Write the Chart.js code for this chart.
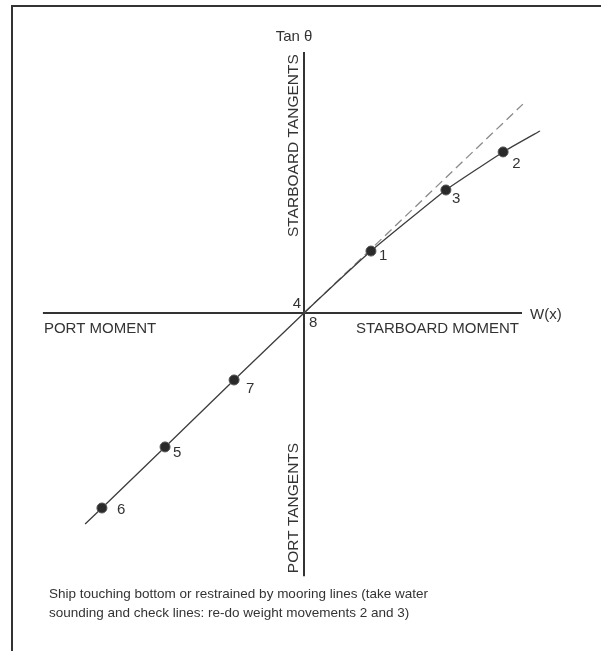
<!DOCTYPE html>
<html>
<head>
<meta charset="utf-8">
<title>Tan theta vs W(x)</title>
<script src="https://cdn.jsdelivr.net/npm/chart.js@4.4.0/dist/chart.umd.min.js"></script>
<style>
  html, body { margin: 0; padding: 0; background: #fff; }
  #wrap { width: 601px; height: 651px; position: relative; }
</style>
</head>
<body>
<div id="wrap"><canvas id="chart"></canvas></div>
<script>
// --- data (arbitrary units, origin = axes crossing) ---
const pointIds = ['6', '5', '7', '1', '3', '2'];
const momentX = [-6.85, -4.71, -2.37, 2.27, 4.81, 6.75];
const tangentY = [-6.61, -4.54, -2.27, 2.10, 4.17, 5.46];

// solid trace through the weight movements (4 and 8 sit at the origin)
const traceX = [-7.42, -6.85, -4.71, -2.37, 0, 2.27, 4.81, 6.75, 8.0];
const traceY = [-7.15, -6.61, -4.54, -2.27, 0, 2.10, 4.17, 5.46, 6.17];

// dashed straight-line extension from the origin
const dashX = [0, 7.42];
const dashY = [0, 7.08];

// axis extents
const axisX = [-8.85, 7.39];
const axisY = [-8.92, 8.85];

const originIds = ['4', '8'];
const captionLines = [
    'Ship touching bottom or restrained by mooring lines (take water',
    'sounding and check lines: re-do weight movements 2 and 3)'
];

const ink = '#333333';
const font = '"Liberation Sans", Arial, sans-serif';

const toXY = (xs, ys) => xs.map((x, i) => ({ x: x, y: ys[i] }));

// label nudges (px) for the point numbers
const labelNudge = {
    '1': [8, 9], '3': [6, 13], '2': [9, 16],
    '7': [12, 13], '5': [8, 10], '6': [15, 6]
};

const sketchText = {
    id: 'sketchText',
    beforeDraw(chart) {
        const ctx = chart.ctx;
        ctx.save();
        ctx.fillStyle = '#fff';
        ctx.fillRect(0, 0, chart.width, chart.height);
        // frame (only top and left edges show)
        ctx.strokeStyle = ink;
        ctx.lineWidth = 2;
        ctx.beginPath();
        ctx.moveTo(12, chart.height);
        ctx.lineTo(12, 6);
        ctx.lineTo(chart.width, 6);
        ctx.stroke();
        ctx.restore();
    },
    afterDatasetsDraw(chart) {
        const ctx = chart.ctx;
        const xs = chart.scales.x, ys = chart.scales.y;
        const ox = xs.getPixelForValue(0), oy = ys.getPixelForValue(0);
        ctx.save();
        ctx.fillStyle = ink;
        ctx.textBaseline = 'alphabetic';
        ctx.font = '15px ' + font;

        // point numbers
        ctx.textAlign = 'left';
        pointIds.forEach((id, i) => {
            const n = labelNudge[id] || [8, 10];
            ctx.fillText(id, xs.getPixelForValue(momentX[i]) + n[0], ys.getPixelForValue(tangentY[i]) + n[1]);
        });
        ctx.textAlign = 'right';
        ctx.fillText(originIds[0], ox - 3, oy - 5);
        ctx.textAlign = 'left';
        ctx.fillText(originIds[1], ox + 5, oy + 14);

        // axis titles
        const top = ys.getPixelForValue(axisY[1]);
        const bottom = ys.getPixelForValue(axisY[0]);
        const left = xs.getPixelForValue(axisX[0]);
        const right = xs.getPixelForValue(axisX[1]);
        ctx.textAlign = 'center';
        ctx.fillText('Tan \u03b8', ox - 10, top - 11);
        ctx.textAlign = 'left';
        ctx.fillText('W(x)', right + 8, oy + 6);
        ctx.fillText('PORT MOMENT', left + 1, oy + 20);
        ctx.textAlign = 'right';
        ctx.fillText('STARBOARD MOMENT', right - 3, oy + 20);

        // rotated tangent labels
        ctx.font = '15.5px ' + font;
        ctx.textAlign = 'left';
        ctx.save();
        ctx.translate(ox - 6, oy - 76);
        ctx.rotate(-Math.PI / 2);
        ctx.fillText('STARBOARD TANGENTS', 0, 0);
        ctx.restore();
        ctx.save();
        ctx.translate(ox - 6, bottom - 3);
        ctx.rotate(-Math.PI / 2);
        ctx.fillText('PORT TANGENTS', 0, 0);
        ctx.restore();

        // caption
        ctx.font = '13.5px ' + font;
        ctx.textAlign = 'left';
        captionLines.forEach((line, i) => ctx.fillText(line, 49, 598 + i * 19));
        ctx.restore();
    }
};

new Chart(document.getElementById('chart'), {
    type: 'scatter',
    data: {
        datasets: [
            {
                label: 'moves',
                data: toXY(momentX, tangentY),
                pointRadius: 5,
                pointBackgroundColor: '#2a2a2a',
                pointBorderColor: '#555',
                pointBorderWidth: 1,
                showLine: false,
                order: 0
            },
            {
                label: 'trace',
                data: toXY(traceX, traceY),
                showLine: true,
                borderColor: '#3d3d3d',
                borderWidth: 1.3,
                pointRadius: 0,
                tension: 0.1,
                order: 1
            },
            {
                label: 'straight',
                data: toXY(dashX, dashY),
                showLine: true,
                borderColor: '#8a8a8a',
                borderWidth: 1.3,
                borderDash: [9, 5],
                pointRadius: 0,
                order: 2
            },
            {
                label: 'moment axis',
                data: toXY(axisX, [0, 0]),
                showLine: true,
                borderColor: ink,
                borderWidth: 2,
                pointRadius: 0,
                order: 3
            },
            {
                label: 'tangent axis',
                data: toXY([0, 0], axisY),
                showLine: true,
                borderColor: ink,
                borderWidth: 2,
                pointRadius: 0,
                order: 3
            }
        ]
    },
    options: {
        responsive: true,
        maintainAspectRatio: false,
        animation: false,
        events: [],
        layout: { autoPadding: false, padding: { left: 9, right: 2, top: 18, bottom: 43 } },
        plugins: {
            legend: { display: false },
            tooltip: { enabled: false }
        },
        scales: {
            x: { type: 'linear', min: -10, max: 10, display: false },
            y: { type: 'linear', min: -10, max: 10, display: false }
        }
    },
    plugins: [sketchText]
});
</script>
</body>
</html>
